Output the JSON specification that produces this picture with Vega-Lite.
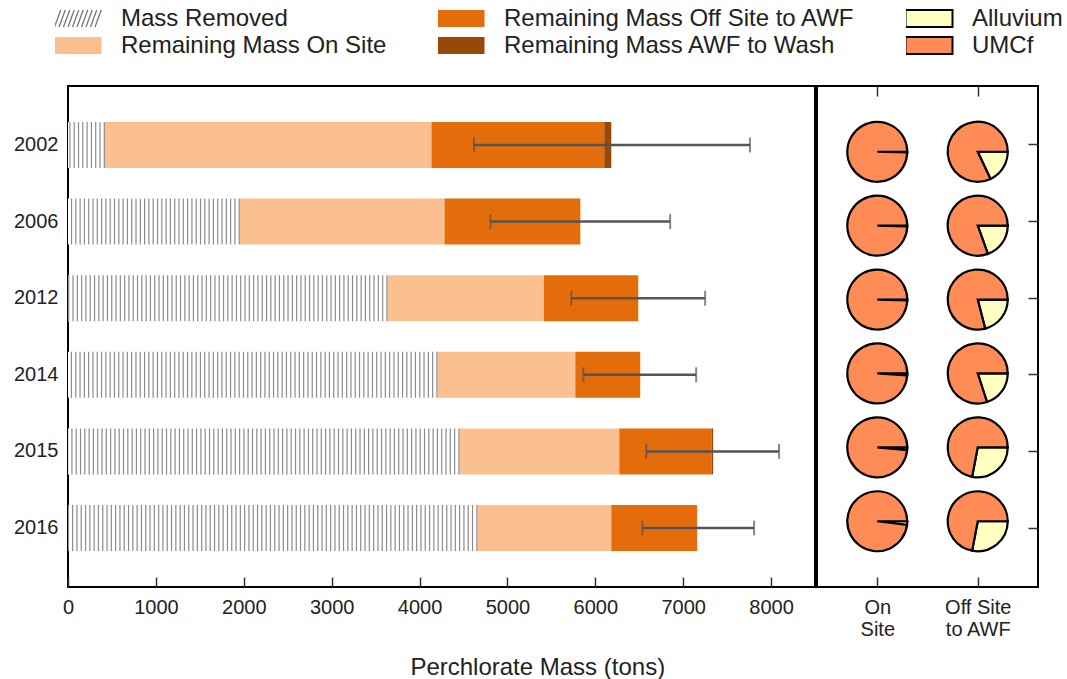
{
  "$schema": "https://vega.github.io/schema/vega-lite/v6.json",
  "autosize": {"type": "pad"},
  "padding": {"left": 12, "top": 6, "right": 20, "bottom": 5},
  "datasets": {
    "bars": [
      {"year": "2002", "category": "Mass Removed", "seq": 1, "mass": 420},
      {"year": "2002", "category": "Remaining Mass On Site", "seq": 2, "mass": 3716},
      {"year": "2002", "category": "Remaining Mass Off Site to AWF", "seq": 3, "mass": 1966},
      {"year": "2002", "category": "Remaining Mass AWF to Wash", "seq": 4, "mass": 80},
      {"year": "2006", "category": "Mass Removed", "seq": 1, "mass": 1955},
      {"year": "2006", "category": "Remaining Mass On Site", "seq": 2, "mass": 2329},
      {"year": "2006", "category": "Remaining Mass Off Site to AWF", "seq": 3, "mass": 1546},
      {"year": "2006", "category": "Remaining Mass AWF to Wash", "seq": 4, "mass": 0},
      {"year": "2012", "category": "Mass Removed", "seq": 1, "mass": 3636},
      {"year": "2012", "category": "Remaining Mass On Site", "seq": 2, "mass": 1779},
      {"year": "2012", "category": "Remaining Mass Off Site to AWF", "seq": 3, "mass": 1074},
      {"year": "2012", "category": "Remaining Mass AWF to Wash", "seq": 4, "mass": 0},
      {"year": "2014", "category": "Mass Removed", "seq": 1, "mass": 4205},
      {"year": "2014", "category": "Remaining Mass On Site", "seq": 2, "mass": 1568},
      {"year": "2014", "category": "Remaining Mass Off Site to AWF", "seq": 3, "mass": 738},
      {"year": "2014", "category": "Remaining Mass AWF to Wash", "seq": 4, "mass": 0},
      {"year": "2015", "category": "Mass Removed", "seq": 1, "mass": 4455},
      {"year": "2015", "category": "Remaining Mass On Site", "seq": 2, "mass": 1818},
      {"year": "2015", "category": "Remaining Mass Off Site to AWF", "seq": 3, "mass": 1053},
      {"year": "2015", "category": "Remaining Mass AWF to Wash", "seq": 4, "mass": 15},
      {"year": "2016", "category": "Mass Removed", "seq": 1, "mass": 4659},
      {"year": "2016", "category": "Remaining Mass On Site", "seq": 2, "mass": 1523},
      {"year": "2016", "category": "Remaining Mass Off Site to AWF", "seq": 3, "mass": 977},
      {"year": "2016", "category": "Remaining Mass AWF to Wash", "seq": 4, "mass": 0}
    ],
    "err": [
      {"year": "2002", "lo": 4620, "hi": 7760},
      {"year": "2006", "lo": 4807, "hi": 6852},
      {"year": "2012", "lo": 5727, "hi": 7250},
      {"year": "2014", "lo": 5864, "hi": 7148},
      {"year": "2015", "lo": 6580, "hi": 8091},
      {"year": "2016", "lo": 6534, "hi": 7807}
    ],
    "pies": [
      {"year": "2002", "loc": "On Site", "layer": "Alluvium", "frac": 0.004},
      {"year": "2002", "loc": "On Site", "layer": "UMCf", "frac": 0.996},
      {"year": "2002", "loc": "Off Site to AWF", "layer": "Alluvium", "frac": 0.18},
      {"year": "2002", "loc": "Off Site to AWF", "layer": "UMCf", "frac": 0.82},
      {"year": "2006", "loc": "On Site", "layer": "Alluvium", "frac": 0.004},
      {"year": "2006", "loc": "On Site", "layer": "UMCf", "frac": 0.996},
      {"year": "2006", "loc": "Off Site to AWF", "layer": "Alluvium", "frac": 0.195},
      {"year": "2006", "loc": "Off Site to AWF", "layer": "UMCf", "frac": 0.805},
      {"year": "2012", "loc": "On Site", "layer": "Alluvium", "frac": 0.005},
      {"year": "2012", "loc": "On Site", "layer": "UMCf", "frac": 0.995},
      {"year": "2012", "loc": "Off Site to AWF", "layer": "Alluvium", "frac": 0.21},
      {"year": "2012", "loc": "Off Site to AWF", "layer": "UMCf", "frac": 0.79},
      {"year": "2014", "loc": "On Site", "layer": "Alluvium", "frac": 0.01},
      {"year": "2014", "loc": "On Site", "layer": "UMCf", "frac": 0.99},
      {"year": "2014", "loc": "Off Site to AWF", "layer": "Alluvium", "frac": 0.2},
      {"year": "2014", "loc": "Off Site to AWF", "layer": "UMCf", "frac": 0.8},
      {"year": "2015", "loc": "On Site", "layer": "Alluvium", "frac": 0.015},
      {"year": "2015", "loc": "On Site", "layer": "UMCf", "frac": 0.985},
      {"year": "2015", "loc": "Off Site to AWF", "layer": "Alluvium", "frac": 0.28},
      {"year": "2015", "loc": "Off Site to AWF", "layer": "UMCf", "frac": 0.72},
      {"year": "2016", "loc": "On Site", "layer": "Alluvium", "frac": 0.02},
      {"year": "2016", "loc": "On Site", "layer": "UMCf", "frac": 0.98},
      {"year": "2016", "loc": "Off Site to AWF", "layer": "Alluvium", "frac": 0.28},
      {"year": "2016", "loc": "Off Site to AWF", "layer": "UMCf", "frac": 0.72}
    ]
  },
  "title": {"text": "Perchlorate Mass (tons)", "orient": "bottom", "anchor": "middle", "fontSize": 24, "fontWeight": "normal", "font": "Liberation Sans", "color": "#222", "offset": 16},
  "spacing": 0,
  "hconcat": [
    {
      "width": 747,
      "height": 501,
      "layer": [
        {
          "data": {"name": "bars"},
          "mark": {"type": "bar"},
          "encoding": {
            "y": {"field": "year", "type": "nominal", "title": null, "scale": {"type": "band", "paddingInner": 0.4, "paddingOuter": 0.47}, "axis": {"orient": "left", "labelPadding": 20}},
            "x": {"field": "mass", "type": "quantitative", "stack": "zero", "title": null, "scale": {"domain": [0, 8500], "nice": false}, "axis": {"values": [0, 1000, 2000, 3000, 4000, 5000, 6000, 7000, 8000], "format": "d", "labelPadding": 20, "labelFlush": false}},
            "order": {"field": "seq", "type": "quantitative"},
            "color": {
              "field": "category", "type": "nominal",
              "scale": {"domain": ["Mass Removed", "Remaining Mass On Site", "Remaining Mass Off Site to AWF", "Remaining Mass AWF to Wash", "Alluvium", "UMCf"], "range": ["#ffffff", "#FAC090", "#E46C0A", "#984807", "#FFFFC2", "#FF8C57"]},
              "legend": {
                "title": null, "orient": "none", "direction": "vertical", "legendX": -13, "legendY": -80, "columns": 3, "columnPadding": 51, "rowPadding": 2, "clipHeight": 25,
                "symbolSize": 625, "labelOffset": 42, "labelFontSize": 24, "labelFont": "Liberation Sans", "labelColor": "#222", "labelLimit": 600,
                "encode": {"symbols": {"update": {
                  "shape": {"signal": "datum.value === 'Mass Removed' ? 'M-1,0.68L-0.5,-0.68M-0.64,0.68L-0.14,-0.68M-0.28,0.68L0.22,-0.68M0.08,0.68L0.58,-0.68M0.44,0.68L0.94,-0.68M0.8,0.68L1.3,-0.68M1.16,0.68L1.66,-0.68M1.52,0.68L2.02,-0.68M1.88,0.68L2.38,-0.68M2.24,0.68L2.74,-0.68' : 'M-1,-0.68H2.76V0.68H-1Z'"},
                  "stroke": {"signal": "(datum.value === 'Alluvium' || datum.value === 'UMCf') ? 'black' : (datum.value === 'Mass Removed' ? '#777777' : 'transparent')"},
                  "strokeWidth": {"signal": "datum.value === 'Mass Removed' ? 1.3 : 2"},
                  "opacity": {"value": 1}
                }}}
              }
            }
          }
        },
        {
          "data": {"name": "bars"},
          "transform": [{"filter": "datum.category === 'Mass Removed'"}],
          "mark": {"type": "rule", "strokeWidth": 46, "strokeDash": [1.2, 3.1], "strokeCap": "butt", "color": "#8c8c8c"},
          "encoding": {
            "y": {"field": "year", "type": "nominal", "title": null},
            "x": {"field": "mass", "type": "quantitative", "title": null},
            "x2": {"datum": 0}
          }
        },
        {
          "data": {"name": "err"},
          "mark": {"type": "rule", "color": "#555555", "strokeWidth": 2.5},
          "encoding": {
            "y": {"field": "year", "type": "nominal", "title": null},
            "x": {"field": "lo", "type": "quantitative", "title": null},
            "x2": {"field": "hi"}
          }
        },
        {
          "data": {"name": "err"},
          "mark": {"type": "tick", "color": "#555555", "thickness": 2, "size": 15},
          "encoding": {
            "y": {"field": "year", "type": "nominal", "title": null},
            "x": {"field": "lo", "type": "quantitative", "title": null}
          }
        },
        {
          "data": {"name": "err"},
          "mark": {"type": "tick", "color": "#555555", "thickness": 2, "size": 15},
          "encoding": {
            "y": {"field": "year", "type": "nominal", "title": null},
            "x": {"field": "hi", "type": "quantitative", "title": null}
          }
        }
      ]
    },
    {
      "width": 221,
      "height": 501,
      "data": {"name": "pies"},
      "transform": [
        {"stack": "frac", "groupby": ["year", "loc"], "sort": [{"field": "layer", "order": "ascending"}], "offset": "normalize", "as": ["t0", "t1"]}
      ],
      "layer": [
        {
          "mark": {"type": "arc", "outerRadius": 30, "stroke": "black", "strokeWidth": 2.2},
          "encoding": {
            "x": {"field": "loc", "type": "nominal", "title": null, "sort": ["On Site", "Off Site to AWF"], "scale": {"type": "point", "padding": 0.6},
                  "axis": {"orient": "bottom", "labelAngle": 0, "labelPadding": 20, "labelLineHeight": 22, "labelExpr": "datum.value === 'On Site' ? ['On', 'Site'] : ['Off Site', 'to AWF']"}},
            "y": {"field": "year", "type": "nominal", "title": null, "scale": {"type": "point", "padding": 0.89}, "axis": null},
            "theta": {"field": "t0", "type": "quantitative", "stack": null, "scale": {"domain": [0, 1], "range": [1.5708, 7.854]}},
            "theta2": {"field": "t1"},
            "color": {
              "field": "layer", "type": "nominal",
              "scale": {"domain": ["Mass Removed", "Remaining Mass On Site", "Remaining Mass Off Site to AWF", "Remaining Mass AWF to Wash", "Alluvium", "UMCf"], "range": ["#ffffff", "#FAC090", "#E46C0A", "#984807", "#FFFFC2", "#FF8C57"]},
              "legend": null
            }
          }
        },
        {
          "mark": {"type": "point", "opacity": 0},
          "encoding": {
            "x": {"field": "loc", "type": "nominal", "title": null, "sort": ["On Site", "Off Site to AWF"], "axis": {"orient": "top", "labels": false}},
            "y": {"field": "year", "type": "nominal", "title": null, "scale": {"type": "band", "paddingInner": 0.4, "paddingOuter": 0.47}, "axis": {"orient": "right", "labels": false}}
          }
        }
      ],
      "resolve": {"scale": {"y": "independent"}, "axis": {"x": "independent", "y": "independent"}}
    }
  ],
  "resolve": {"scale": {"color": "shared", "x": "independent", "y": "independent"}},
  "config": {
    "font": "Liberation Sans",
    "view": {"stroke": "black", "strokeWidth": 2},
    "axis": {"domain": false, "grid": false, "labelFont": "Liberation Sans", "labelFontSize": 20, "labelColor": "#222222", "tickColor": "#333333", "tickSize": -10, "tickWidth": 1.5}
  }
}
